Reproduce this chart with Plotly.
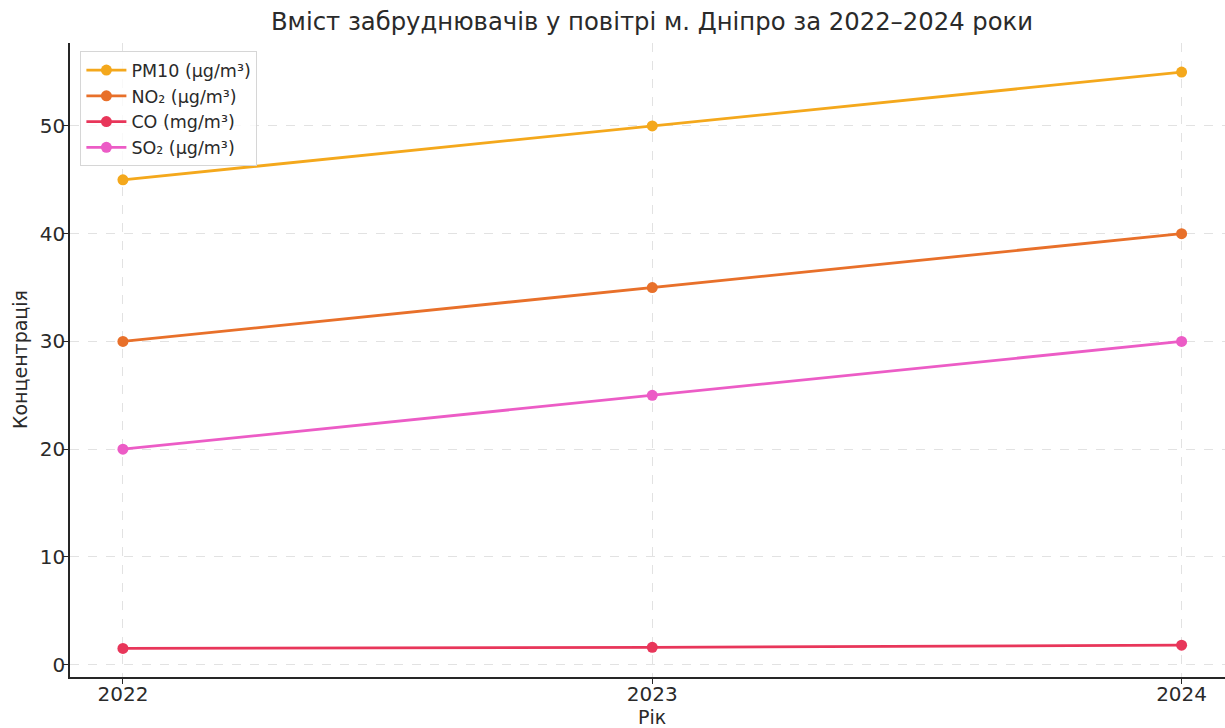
import plotly.graph_objects as go

years = [2022, 2023, 2024]
pm10 = [45, 50, 55]
no2 = [30, 35, 40]
co = [1.5, 1.6, 1.8]
so2 = [20, 25, 30]

series_names = ["PM10 (µg/m³)", "NO₂ (µg/m³)", "CO (mg/m³)", "SO₂ (µg/m³)"]
series_values = [pm10, no2, co, so2]
colors = ["#f4a81c", "#e8702a", "#e8365a", "#ec5cc6"]

fig = go.Figure()
for name, vals, col in zip(series_names, series_values, colors):
    fig.add_trace(go.Scatter(
        x=years, y=vals, name=name, mode="lines+markers",
        line=dict(color=col, width=2.8),
        marker=dict(color=col, size=11),
    ))

font_family = "DejaVu Sans"
text_color = "#2a2a2a"
plot_top, plot_bottom, plot_left = 43, 677, 70
plot_h = plot_bottom - plot_top
plot_w = 1225 - plot_left

fig.update_layout(
    width=1225, height=728,
    margin=dict(l=plot_left, r=0, t=plot_top, b=728 - plot_bottom),
    paper_bgcolor="white", plot_bgcolor="white",
    font=dict(family=font_family, color=text_color),
    title=dict(text="Вміст забруднювачів у повітрі м. Дніпро за 2022–2024 роки",
               x=652 / 1225, xanchor="center", xref="container",
               y=1 - 21 / 728, yanchor="middle",
               font=dict(size=24.3, family=font_family, color=text_color)),
    showlegend=True,
    legend=dict(x=0.009, y=0.987, xanchor="left", yanchor="top",
                bgcolor="rgba(255,255,255,0.8)", bordercolor="#d6d6d6", borderwidth=1,
                font=dict(size=17.5, family=font_family, color=text_color),
                tracegroupgap=0, itemwidth=40),
    annotations=[
        dict(text="Рік", xref="paper", yref="paper", x=(652 - plot_left) / plot_w,
             y=(plot_bottom - 717) / plot_h,
             showarrow=False, xanchor="center", yanchor="middle",
             font=dict(size=19, family=font_family, color=text_color)),
        dict(text="Концентрація", xref="paper", yref="paper", x=(20 - plot_left) / plot_w, y=0.5,
             xanchor="center", yanchor="middle", textangle=-90, showarrow=False,
             font=dict(size=19, family=font_family, color=text_color)),
    ],
)
fig.update_xaxes(
    range=[2021.9, 2024.082], tickvals=years, ticktext=[str(y) for y in years],
    showline=True, linecolor="#262626", linewidth=1.5,
    ticks="outside", ticklen=5, tickcolor="#262626",
    showgrid=True, gridcolor="#e2e2e2", griddash="dash", gridwidth=1,
    zeroline=False, automargin=False, ticklabelstandoff=-7,
    tickfont=dict(size=20, family=font_family, color=text_color),
)
fig.update_yaxes(
    range=[-1.15, 57.7], tickvals=[0, 10, 20, 30, 40, 50],
    showline=True, linecolor="#262626", linewidth=1.5,
    ticks="outside", ticklen=5, tickcolor="#262626",
    showgrid=True, gridcolor="#e2e2e2", griddash="dash", gridwidth=1,
    zeroline=False, automargin=False, ticklabelstandoff=-6,
    tickfont=dict(size=20, family=font_family, color=text_color),
)

fig.write_html("out.html")
